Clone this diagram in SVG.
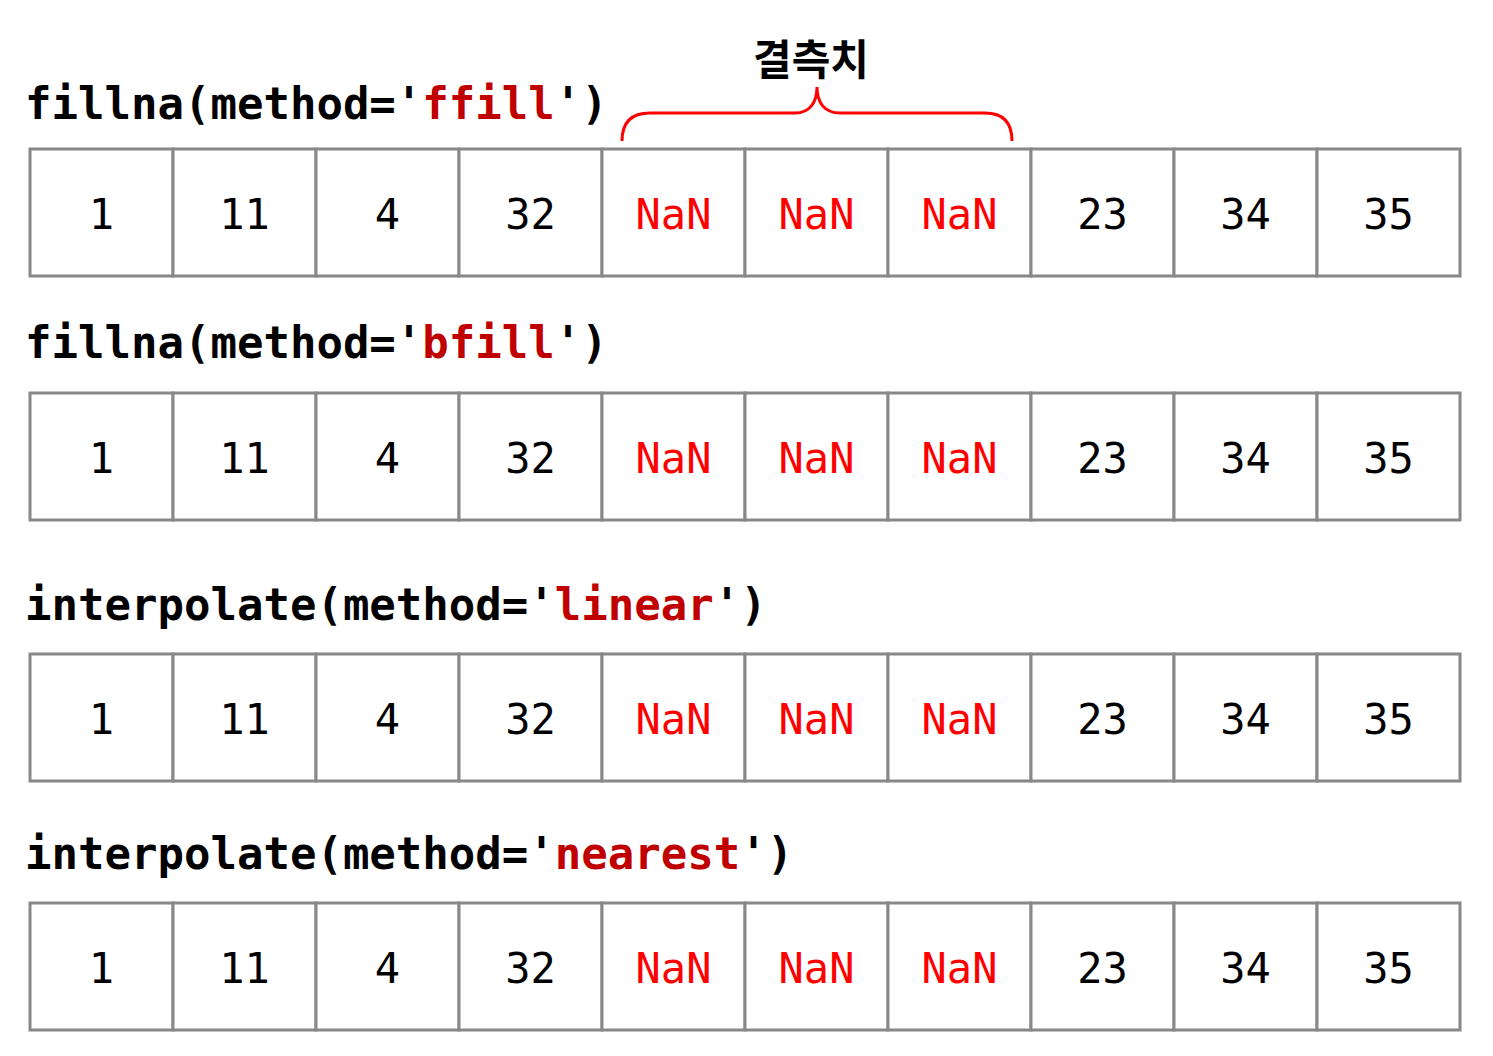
<svg xmlns="http://www.w3.org/2000/svg" width="1493" height="1056" viewBox="0 0 1493 1056">
<style>
.hd{font-family:"DejaVu Sans Mono","Liberation Mono",monospace;font-weight:bold;font-size:44px;fill:#000}
.hr{fill:#c00000}
.cell{fill:#fff;stroke:#888;stroke-width:3}
.v{font-family:"DejaVu Sans Mono","Liberation Mono",monospace;font-size:42px;fill:#000;text-anchor:middle}
.n{fill:#ff0000}
.kr{font-family:"Noto Sans CJK KR","Noto Sans",sans-serif;font-weight:bold;font-size:42px;fill:#000;text-anchor:middle}
.brace{fill:none;stroke:#ff0000;stroke-width:3}
</style>
<defs>
<g id="row">
<rect class="cell" x="30" y="0" width="143" height="127"/>
<rect class="cell" x="173" y="0" width="143" height="127"/>
<rect class="cell" x="316" y="0" width="143" height="127"/>
<rect class="cell" x="459" y="0" width="143" height="127"/>
<rect class="cell" x="602" y="0" width="143" height="127"/>
<rect class="cell" x="745" y="0" width="143" height="127"/>
<rect class="cell" x="888" y="0" width="143" height="127"/>
<rect class="cell" x="1031" y="0" width="143" height="127"/>
<rect class="cell" x="1174" y="0" width="143" height="127"/>
<rect class="cell" x="1317" y="0" width="143" height="127"/>
<text class="v" x="101.5" y="80">1</text>
<text class="v" x="244.5" y="80">11</text>
<text class="v" x="387.5" y="80">4</text>
<text class="v" x="530.5" y="80">32</text>
<text class="v n" x="673.5" y="80">NaN</text>
<text class="v n" x="816.5" y="80">NaN</text>
<text class="v n" x="959.5" y="80">NaN</text>
<text class="v" x="1102.5" y="80">23</text>
<text class="v" x="1245.5" y="80">34</text>
<text class="v" x="1388.5" y="80">35</text>
</g>
</defs>
<g id="label-missing">
<text class="kr" x="811" y="75">결측치</text>
</g>
<g id="connectors">
<path class="brace" d="M622,141 C622,122 632,113 650,113 L795,113 C810,113 817,102 817,87 C817,102 824,113 840,113 L985,113 C1003,113 1012,122 1012,141"/>
</g>
<g id="ffill">
<text class="hd" x="25" y="119">fillna(method='<tspan class="hr">ffill</tspan>')</text>
<use href="#row" y="149"/>
</g>
<g id="bfill">
<text class="hd" x="25" y="358">fillna(method='<tspan class="hr">bfill</tspan>')</text>
<use href="#row" y="393"/>
</g>
<g id="linear">
<text class="hd" x="25" y="620">interpolate(method='<tspan class="hr">linear</tspan>')</text>
<use href="#row" y="654"/>
</g>
<g id="nearest">
<text class="hd" x="25" y="869">interpolate(method='<tspan class="hr">nearest</tspan>')</text>
<use href="#row" y="903"/>
</g>
</svg>
